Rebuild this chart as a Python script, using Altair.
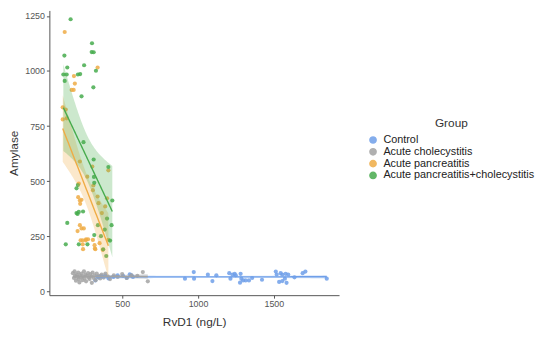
import altair as alt
import numpy as np
import pandas as pd

groups = ["Control", "Acute cholecystitis", "Acute pancreatitis", "Acute pancreatitis+cholecystitis"]
colors = ["#6f9fe9", "#a3a3a3", "#efac45", "#47ab4d"]

control_x = [323, 345, 362, 388, 410, 442, 470, 506, 530, 550, 561, 571, 914, 972, 974, 1065, 1095, 1121,
             1206, 1214, 1227, 1242, 1249, 1281, 1286, 1277, 1297, 1314, 1336, 1357, 1422, 1513, 1519,
             1545, 1556, 1578, 1595, 1535, 1556, 1584, 1573, 1636, 1690, 1708, 1849]
control_y = [49, 62, 70, 72, 58, 65, 72, 70, 60, 77, 72, 65, 57, 87, 57, 75, 46, 72,
             82, 57, 75, 79, 72, 79, 57, 39, 49, 49, 49, 60, 52, 89, 76,
             82, 76, 79, 76, 42, 46, 38, 57, 63, 82, 89, 57]

chole_x = [175, 182, 186, 190, 195, 200, 205, 210, 213, 218, 222, 228, 232, 238, 242, 248, 252, 258,
           262, 268, 275, 280, 285, 290, 296, 300, 305, 312, 318, 325, 332, 340, 348, 355, 365, 378,
           390, 405, 420, 445, 470, 500, 530, 561, 600, 636, 669]
chole_y = [82, 60, 90, 70, 48, 75, 65, 85, 55, 40, 72, 62, 80, 50, 68, 90, 58, 75,
           45, 70, 82, 62, 55, 78, 68, 38, 85, 60, 72, 50, 80, 65, 70, 58, 75, 62,
           80, 68, 55, 72, 65, 78, 60, 72, 70, 87, 45]

panc_x = [121, 182, 188, 167, 180, 338, 108, 128, 108, 134, 221, 303, 409, 214, 210, 221, 232, 223,
          338, 221, 232, 247, 206, 307, 318, 320, 226, 240, 260, 242, 372, 351, 409, 307, 400, 388,
          366, 344, 270, 310, 262, 275, 240, 323]
panc_y = [1177, 977, 943, 914, 914, 1016, 835, 825, 780, 785, 589, 566, 549, 489, 427, 412, 415, 397,
          430, 300, 285, 285, 273, 233, 209, 194, 231, 231, 231, 191, 188, 218, 233, 459, 422, 385,
          355, 400, 520, 480, 236, 236, 213, 191]

both_x = [160, 119, 138, 112, 134, 121, 208, 223, 249, 301, 299, 312, 327, 310, 232, 245, 312, 409,
          314, 316, 208, 435, 199, 206, 214, 242, 138, 128, 214, 271, 316, 199, 340, 360, 385, 400,
          420, 375, 395, 430]
both_y = [1235, 1070, 1016, 984, 984, 955, 984, 986, 1026, 1126, 1086, 1085, 1001, 926, 885, 677, 598, 564,
          519, 492, 482, 412, 355, 351, 360, 362, 310, 213, 213, 213, 255, 467, 300, 250, 280, 330,
          230, 190, 160, 300]

series = {
    groups[0]: (control_x, control_y),
    groups[1]: (chole_x, chole_y),
    groups[2]: (panc_x, panc_y),
    groups[3]: (both_x, both_y),
}

pts = pd.concat(
    [pd.DataFrame({"RvD1": xs, "Amylase": ys, "Group": g}) for g, (xs, ys) in series.items()],
    ignore_index=True,
)


def tq(df):
    z = 1.959964
    return z + (z**3 + z) / (4 * df) + (5 * z**5 + 16 * z**3 + 3 * z) / (96 * df**2)


fits = []
for g, (xs, ys) in series.items():
    x = np.asarray(xs, float)
    y = np.asarray(ys, float)
    n = len(x)
    b, a = np.polyfit(x, y, 1)
    res = y - (a + b * x)
    s = np.sqrt((res**2).sum() / (n - 2))
    sxx = ((x - x.mean())**2).sum()
    grid = np.linspace(x.min(), x.max(), 80)
    fit = a + b * grid
    se = s * np.sqrt(1 / n + (grid - x.mean())**2 / sxx)
    t = tq(n - 2)
    fits.append(pd.DataFrame({"RvD1": grid, "fit": fit, "lo": fit - t * se, "hi": fit + t * se, "Group": g}))
fit_df = pd.concat(fits, ignore_index=True)

xscale = alt.Scale(domain=[20, 1930], nice=False, zero=False)
yscale = alt.Scale(domain=[-18, 1275], nice=False, zero=False)
cscale = alt.Scale(domain=groups, range=colors)

points = alt.Chart(pts).mark_circle(size=18, opacity=0.85).encode(
    x=alt.X("RvD1:Q", scale=xscale,
            axis=alt.Axis(title="RvD1 (ng/L)", values=[500, 1000, 1500], format="d", titlePadding=8)),
    y=alt.Y("Amylase:Q", scale=yscale,
            axis=alt.Axis(title="Amylase", values=[0, 250, 500, 750, 1000, 1250], format="d",
                          titlePadding=4)),
    color=alt.Color("Group:N", scale=cscale, sort=groups,
                    legend=alt.Legend(title="Group", orient="none", legendX=323, legendY=109,
                                      titleAnchor="middle", symbolType="circle", symbolSize=40,
                                      labelFontSize=11, titleFontSize=12, titleFontWeight="normal",
                                      rowPadding=-3, titlePadding=5, labelOffset=5, labelLimit=0)),
)

band = alt.Chart(fit_df).mark_area(opacity=0.28, clip=True).encode(
    x=alt.X("RvD1:Q", scale=xscale),
    y=alt.Y("lo:Q", scale=yscale),
    y2="hi:Q",
    color=alt.Color("Group:N", scale=cscale, legend=None),
    detail="Group:N",
)

line = alt.Chart(fit_df).mark_line(strokeWidth=1.4, clip=True).encode(
    x=alt.X("RvD1:Q", scale=xscale),
    y=alt.Y("fit:Q", scale=yscale),
    color=alt.Color("Group:N", scale=cscale, legend=None),
    detail="Group:N",
)

chart = alt.layer(points, band, line).properties(
    width=294, height=289,
    autosize=alt.AutoSizeParams(type="none"),
    padding={"left": 42, "top": 0, "right": 206, "bottom": 42},
).configure_view(stroke=None).configure_axis(
    grid=False, domainColor="#555555", tickColor="#555555", labelColor="#555555",
    labelFontSize=9, titleFontSize=12, titleFontWeight="normal", titleColor="#333333",
    labelFont="Liberation Sans", titleFont="Liberation Sans", tickSize=3, labelPadding=2,
).configure_legend(labelFont="Liberation Sans", titleFont="Liberation Sans",
                   labelColor="#222222", titleColor="#333333")

chart.save("out.html", embed_options={"renderer": "svg", "actions": False})
